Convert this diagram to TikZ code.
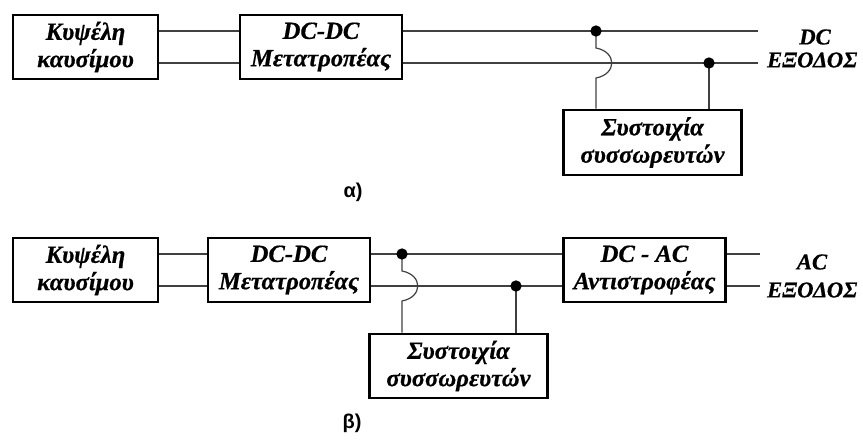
\documentclass[tikz,border=0pt]{standalone}
\usepackage{fontspec}
\setmainfont{Liberation Serif}[BoldItalicFeatures={FakeBold=0.6}]
\newfontfamily\capfont{Liberation Sans}
\begin{document}
\begin{tikzpicture}[x=0.75pt,y=-0.75pt,
  blk/.style={draw=black,line width=2.2pt,minimum height=48pt,inner sep=0pt,
    align=center,font=\fontsize{18.5}{20.5}\selectfont\bfseries\itshape},
  wire/.style={draw=black!75,line width=0.9pt},
  dot/.style={circle,fill=black,inner sep=0pt,minimum size=8.5pt},
  outlbl/.style={font=\fontsize{17}{19}\selectfont\bfseries\itshape},
  caplbl/.style={font=\fontsize{15}{17}\selectfont\capfont\bfseries}]
\useasboundingbox (0,0) rectangle (863,442);

% ---------- (a) DC output ----------
\node[blk,minimum width=108.75pt] (fc1) at (85.5,47) {Κυψέλη\\καυσίμου};
\node[blk,minimum width=121.5pt] (dc1) at (321,47) {DC-DC\\Μετατροπέας};
\node[blk,minimum width=134pt,minimum height=48.75pt] (bat1) at (652.5,142.5) {Συστοιχία\\συσσωρευτών};
\coordinate (a1) at (596,31);
\coordinate (a2) at (709,63);
\coordinate (oa1) at (758,31);
\coordinate (oa2) at (758,63);

\draw[wire] ([yshift=12pt]fc1.east) -- ([yshift=12pt]dc1.west);
\draw[wire] ([yshift=-12pt]fc1.east) -- ([yshift=-12pt]dc1.west);
\draw[wire] ([yshift=12pt]dc1.east) -- (oa1);
\draw[wire] ([yshift=-12pt]dc1.east) -- (oa2);
\draw[wire] (a1) -- (596,48) .. controls (617,52) and (617,74) .. (596,78)
  -- (bat1.north -| a1);
\draw[wire] (a2) -- (bat1.north -| a2);
\node[dot] (da1) at (a1) {};
\node[dot] (da2) at (a2) {};

\node[outlbl] (dclbl) at (815,37) {DC};
\node[outlbl,anchor=east] (outa) at (862,60) {ΕΞΟΔΟΣ};
\node[caplbl] (capa) at (353,192) {α)};

% ---------- (b) AC output ----------
\node[blk,minimum width=108.75pt] (fc2) at (85.5,270) {Κυψέλη\\καυσίμου};
\node[blk,minimum width=121.5pt] (dc2) at (289,270) {DC-DC\\Μετατροπέας};
\node[blk,minimum width=122pt] (inv) at (644.5,270) {DC - AC\\Αντιστροφέας};
\node[blk,minimum width=134pt] (bat2) at (458.5,366) {Συστοιχία\\συσσωρευτών};
\coordinate (b1) at (402,254);
\coordinate (b2) at (516,286);
\coordinate (ob1) at (760,254);
\coordinate (ob2) at (760,286);

\draw[wire] ([yshift=12pt]fc2.east) -- ([yshift=12pt]dc2.west);
\draw[wire] ([yshift=-12pt]fc2.east) -- ([yshift=-12pt]dc2.west);
\draw[wire] ([yshift=12pt]dc2.east) -- ([yshift=12pt]inv.west);
\draw[wire] ([yshift=-12pt]dc2.east) -- ([yshift=-12pt]inv.west);
\draw[wire] ([yshift=12pt]inv.east) -- (ob1);
\draw[wire] ([yshift=-12pt]inv.east) -- (ob2);
\draw[wire] (b1) -- (402,271) .. controls (423,275) and (423,297) .. (402,301)
  -- (bat2.north -| b1);
\draw[wire] (b2) -- (bat2.north -| b2);
\node[dot] (db1) at (b1) {};
\node[dot] (db2) at (b2) {};

\node[outlbl] (aclbl) at (812,262) {AC};
\node[outlbl,anchor=east] (outb) at (862,290) {ΕΞΟΔΟΣ};
\node[caplbl] (capb) at (352,423) {β)};
\end{tikzpicture}
\end{document}
